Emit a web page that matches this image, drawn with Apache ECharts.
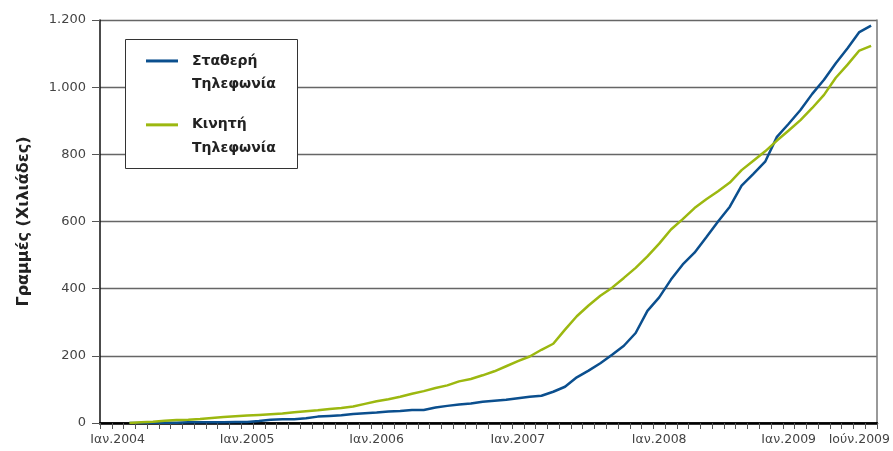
<!DOCTYPE html>
<html><head><meta charset="utf-8">
<script src="https://cdn.jsdelivr.net/npm/echarts@6/dist/echarts.min.js"></script>
<style>html,body{margin:0;padding:0;background:#fff}#c{width:893px;height:451px}</style>
</head><body><div id="c"></div>
<script>
const months = [
 'Ιαν.2004','Φεβ.2004','Μαρ.2004','Απρ.2004','Μάι.2004','Ιούν.2004','Ιούλ.2004','Αύγ.2004','Σεπ.2004','Οκτ.2004','Νοέ.2004','Δεκ.2004',
 'Ιαν.2005','Φεβ.2005','Μαρ.2005','Απρ.2005','Μάι.2005','Ιούν.2005','Ιούλ.2005','Αύγ.2005','Σεπ.2005','Οκτ.2005','Νοέ.2005','Δεκ.2005',
 'Ιαν.2006','Φεβ.2006','Μαρ.2006','Απρ.2006','Μάι.2006','Ιούν.2006','Ιούλ.2006','Αύγ.2006','Σεπ.2006','Οκτ.2006','Νοέ.2006','Δεκ.2006',
 'Ιαν.2007','Φεβ.2007','Μαρ.2007','Απρ.2007','Μάι.2007','Ιούν.2007','Ιούλ.2007','Αύγ.2007','Σεπ.2007','Οκτ.2007','Νοέ.2007','Δεκ.2007',
 'Ιαν.2008','Φεβ.2008','Μαρ.2008','Απρ.2008','Μάι.2008','Ιούν.2008','Ιούλ.2008','Αύγ.2008','Σεπ.2008','Οκτ.2008','Νοέ.2008','Δεκ.2008',
 'Ιαν.2009','Φεβ.2009','Μαρ.2009','Απρ.2009','Μάι.2009','Ιούν.2009'
];
const fixedLines = [null,null,
 0,0,1,1,1,2,2,2,2,3,
 3,6,10,11,11,14,19,21,23,27,29,31,
 34,36,39,39,46,51,55,58,63,66,69,74,
 78,81,93,108,136,156,178,203,230,268,334,374,
 427,472,507,553,600,644,707,742,778,852,891,932,
 980,1022,1071,1116,1164,1183];
const mobileLines = [null,null,
 0,2,4,7,9,10,12,15,18,20,
 22,24,26,28,32,35,38,42,45,49,57,65,
 71,78,87,95,104,112,124,131,142,154,169,184,
 198,218,236,278,318,350,379,403,432,462,496,534,
 576,607,640,666,690,716,753,781,809,841,871,902,
 938,977,1028,1067,1109,1123];
const tickIdx = [1, 12, 23, 35, 47, 58, 64];
const tickText = ['Ιαν.2004','Ιαν.2005','Ιαν.2006','Ιαν.2007','Ιαν.2008','Ιαν.2009','Ιούν.2009'];
const seriesNames = ['Σταθερή\nΤηλεφωνία', 'Κινητή\nΤηλεφωνία'];
const yName = 'Γραμμές (Χιλιάδες)';

const FONT = 'DejaVu Sans';
const chart = echarts.init(document.getElementById('c'));
chart.setOption({
  animation: false,
  backgroundColor: '#fff',
  grid: {left: 100, right: 16, top: 20, bottom: 28},
  graphic: [{
    type: 'rect', z: 3, left: 125, top: 39,
    shape: {width: 172, height: 129},
    style: {fill: '#fff', stroke: '#333', lineWidth: 1}
  }],
  legend: {
    orient: 'vertical', left: 146, top: 26, z: 5,
    padding: 0, itemGap: -6, itemWidth: 32, itemHeight: 3, icon: 'rect',
    data: seriesNames,
    formatter: (name) => '\u00a0\n' + name,
    textStyle: {fontFamily: FONT, fontWeight: 'bold', fontSize: 14, color: '#222',
      lineHeight: 23.3, padding: [0, 0, 0, 9]}
  },
  xAxis: [{
    type: 'category', data: months, boundaryGap: true,
    axisLine: {show: true, lineStyle: {color: '#111', width: 1.5}},
    axisTick: {show: true, interval: 0, length: 6, lineStyle: {color: '#555', width: 1}},
    axisLabel: {
      interval: (i) => tickIdx.includes(i),
      formatter: (v, i) => tickText[tickIdx.indexOf(i)],
      fontFamily: FONT, fontSize: 12.5, color: '#444', margin: 10
    },
    splitLine: {show: false}
  }, {
    type: 'category', data: months, position: 'top',
    axisLine: {lineStyle: {color: '#000', width: 2.5}},
    axisTick: {show: false}, axisLabel: {show: false}
  }],
  yAxis: [{
    type: 'value', min: 0, max: 1200, interval: 200,
    name: yName, nameLocation: 'middle', nameGap: 68, nameRotate: 90,
    nameTextStyle: {fontFamily: FONT, fontWeight: 'bold', fontSize: 16, color: '#222'},
    axisLine: {show: true, lineStyle: {color: '#111', width: 1.5}},
    axisTick: {show: true, length: 8, lineStyle: {color: '#555', width: 1}},
    axisLabel: {
      fontFamily: FONT, fontSize: 13, color: '#444', margin: 14,
      formatter: (v) => v >= 1000 ? Math.floor(v / 1000) + '.' + String(v % 1000).padStart(3, '0') : String(v)
    },
    splitLine: {lineStyle: {color: '#666', width: 1.3}}
  }, {
    type: 'value', min: 0, max: 1200, interval: 200, position: 'right',
    axisLine: {show: true, lineStyle: {color: '#777', width: 1.5}},
    axisTick: {show: false}, axisLabel: {show: false}, splitLine: {show: false}
  }],
  series: [{
    name: seriesNames[0], type: 'line', data: fixedLines, symbol: 'none',
    color: '#0b4f8e', lineStyle: {width: 2.5, color: '#0b4f8e'}, z: 2
  }, {
    name: seriesNames[1], type: 'line', data: mobileLines, symbol: 'none',
    color: '#9cb810', lineStyle: {width: 2.5, color: '#9cb810'}, z: 2
  }]
});
</script></body></html>
